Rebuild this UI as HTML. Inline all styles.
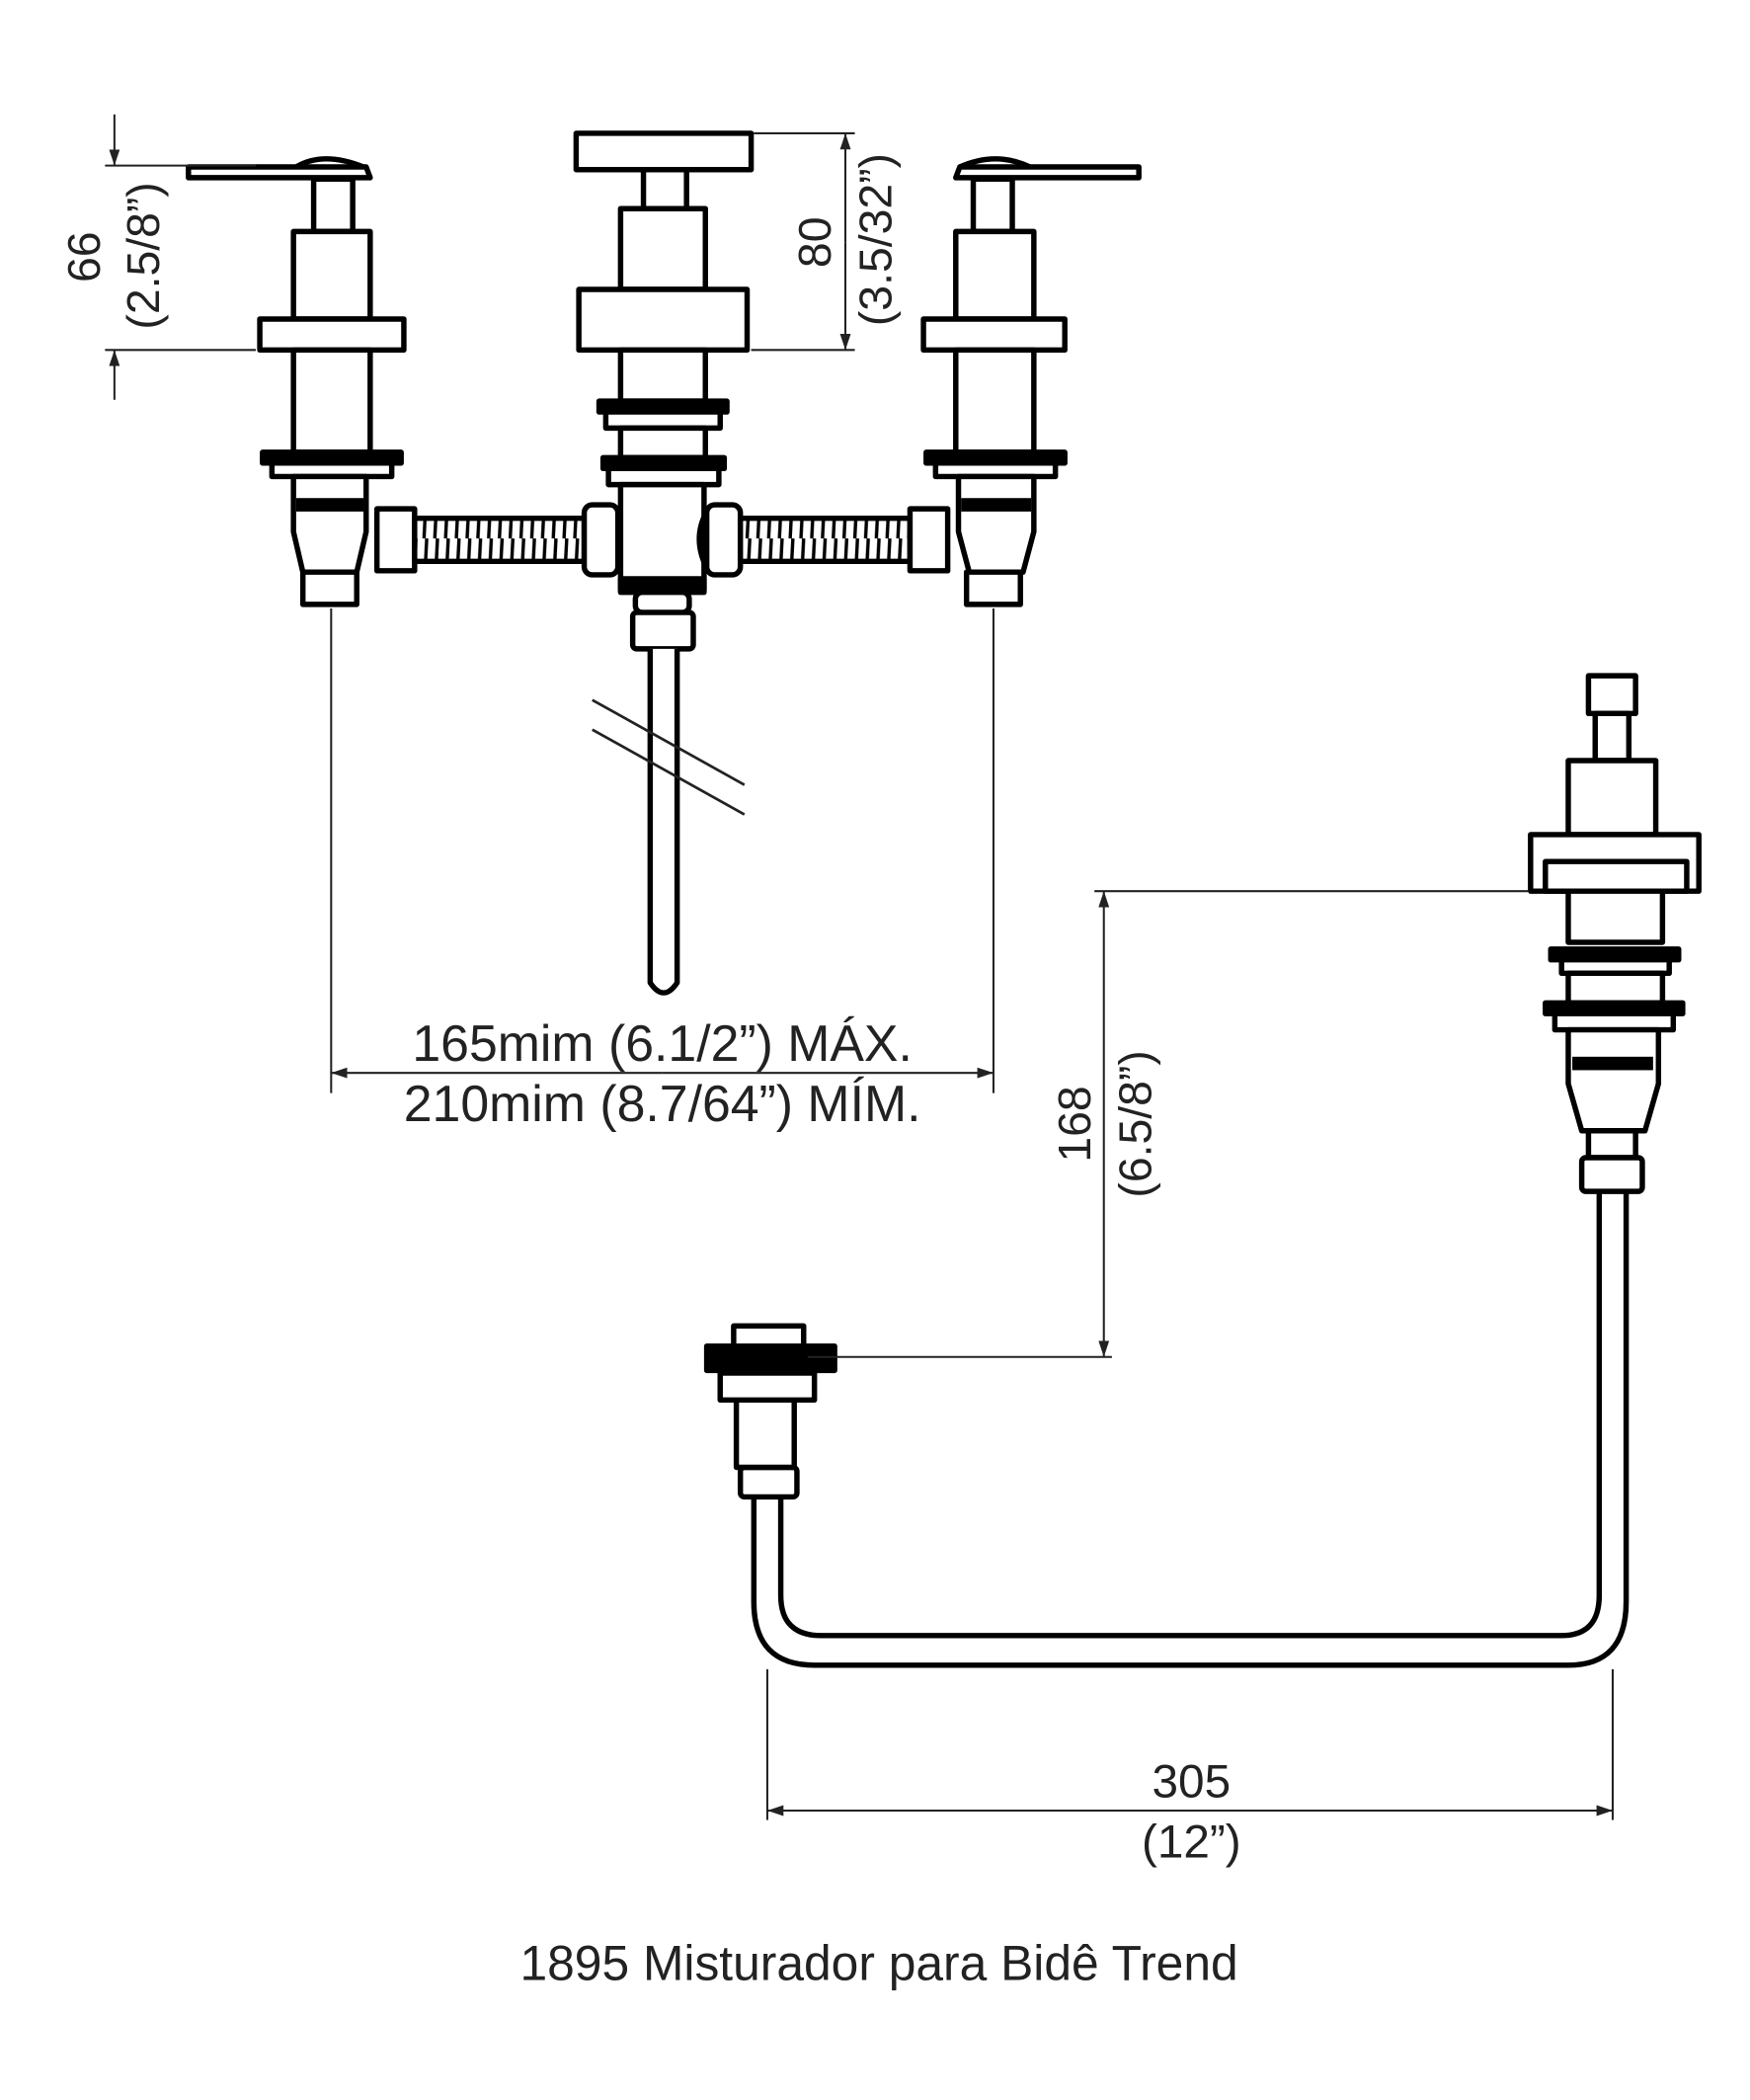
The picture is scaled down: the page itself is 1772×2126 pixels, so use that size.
<!DOCTYPE html>
<html><head><meta charset="utf-8"><style>
html,body{margin:0;padding:0;background:#fff}
svg{display:block}
text{font-family:"Liberation Sans",Arial,sans-serif;fill:#222}
</style></head><body>
<svg width="1772" height="2126" viewBox="0 0 1300 1560" preserveAspectRatio="none" xmlns="http://www.w3.org/2000/svg">
<defs>
<pattern id="coil" width="8" height="40" patternUnits="userSpaceOnUse">
<rect width="8" height="40" fill="#fff"/><line x1="5" y1="0" x2="3" y2="40" stroke="#000" stroke-width="2.5"/>
</pattern>
<marker id="ar" markerWidth="12" markerHeight="8" refX="12" refY="4" orient="auto" markerUnits="userSpaceOnUse"><path d="M0,0 L12,4 L0,8 Z" fill="#222"/></marker>
</defs>
<g fill="#fff" stroke="#000" stroke-width="4" stroke-linejoin="round">
<path d="M140,124 L272,124 L275,132 L140,132 Z"/>
<path d="M220,124 Q240,112 270,124" fill="none"/>
<rect x="233" y="133" width="29" height="39"/>
<rect x="218" y="172" width="57" height="65"/>
<rect x="193" y="237" width="107" height="23"/>
<rect x="218" y="260" width="57" height="76"/>
<rect x="195" y="336" width="103" height="8" fill="#000"/>
<rect x="202" y="344" width="89" height="10"/>
<path d="M218,354 L272,354 L272,395 L265,425 L225,425 L218,395 Z"/>
<rect x="225" y="425" width="40" height="24"/>
<rect x="220" y="370" width="50" height="10" fill="#000" stroke="none"/>
<rect x="280" y="378" width="28" height="46"/>
<rect x="308" y="385" width="126" height="32" fill="url(#coil)"/>
<rect x="434" y="375" width="25" height="52" rx="6"/>
<path d="M459,380 Q470,400 459,422" fill="none"/>
<rect x="428" y="99" width="130" height="27"/>
<rect x="478" y="126" width="32" height="29"/>
<rect x="461" y="155" width="63" height="60"/>
<rect x="430" y="215" width="125" height="45"/>
<rect x="461" y="260" width="63" height="38"/>
<rect x="445" y="298" width="95" height="8" fill="#000"/>
<rect x="450" y="306" width="85" height="12"/>
<rect x="461" y="318" width="63" height="22"/>
<rect x="448" y="340" width="90" height="8" fill="#000"/>
<rect x="452" y="348" width="82" height="12"/>
<rect x="461" y="360" width="62" height="80"/>
<rect x="461" y="430" width="62" height="8" fill="#000"/>
<rect x="472" y="440" width="40" height="15" rx="5"/>
<rect x="470" y="455" width="45" height="27" rx="3"/>
<path d="M483,482 L483,730 Q493,745 503,730 L503,482" />
<path d="M525,380 Q514,400 525,422" fill="none"/>
<rect x="525" y="375" width="25" height="52" rx="6"/>
<rect x="550" y="385" width="126" height="32" fill="url(#coil)"/>
<rect x="676" y="378" width="28" height="46"/>
<path d="M713,124 L846,124 L846,132 L710,132 Z"/>
<path d="M713,124 Q740,112 765,124" fill="none"/>
<rect x="723" y="133" width="29" height="39"/>
<rect x="710" y="172" width="58" height="65"/>
<rect x="686" y="237" width="105" height="23"/>
<rect x="710" y="260" width="58" height="76"/>
<rect x="688" y="336" width="103" height="8" fill="#000"/>
<rect x="695" y="344" width="89" height="10"/>
<path d="M712,354 L768,354 L768,395 L760,425 L720,425 L712,395 Z"/>
<rect x="718" y="425" width="40" height="24"/>
<rect x="714" y="370" width="52" height="10" fill="#000" stroke="none"/>
<rect x="1180" y="502" width="35" height="28"/>
<rect x="1185" y="530" width="25" height="35"/>
<rect x="1165" y="565" width="65" height="55"/>
<rect x="1137" y="620" width="125" height="42"/>
<rect x="1148" y="640" width="105" height="22"/>
<rect x="1165" y="662" width="70" height="38"/>
<rect x="1152" y="705" width="95" height="8" fill="#000"/>
<rect x="1160" y="713" width="80" height="10"/>
<rect x="1165" y="723" width="70" height="22"/>
<rect x="1148" y="745" width="102" height="8" fill="#000"/>
<rect x="1155" y="753" width="88" height="12"/>
<path d="M1165,765 L1232,765 L1232,805 L1222,840 L1175,840 L1165,805 Z"/>
<rect x="1168" y="785" width="60" height="10" fill="#000" stroke="none"/>
<rect x="1180" y="840" width="35" height="20"/>
<rect x="1175" y="860" width="45" height="25" rx="3"/>
<path d="M1188,885 L1188,1185 Q1188,1215 1160,1215 L610,1215 Q580,1215 580,1185 L580,1110" fill="none"/>
<path d="M1208,885 L1208,1190 Q1208,1237 1165,1237 L605,1237 Q560,1237 560,1190 L560,1110" fill="none"/>
<rect x="550" y="1090" width="42" height="22" rx="3"/>
<rect x="547" y="1040" width="43" height="50"/>
<rect x="535" y="1020" width="70" height="20"/>
<rect x="525" y="1000" width="95" height="18" fill="#000"/>
<rect x="545" y="985" width="52" height="15"/>
</g>
<g stroke="#222" stroke-width="2" fill="none">
<line x1="440" y1="520" x2="553" y2="583"/>
<line x1="440" y1="542" x2="553" y2="605"/>
</g>
<g stroke="#222" stroke-width="1.5" fill="none">
<line x1="78" y1="123" x2="190" y2="123"/>
<line x1="78" y1="260" x2="190" y2="260"/>
<line x1="85" y1="85" x2="85" y2="123" marker-end="url(#ar)"/>
<line x1="85" y1="297" x2="85" y2="260" marker-end="url(#ar)"/>
<line x1="560" y1="99" x2="635" y2="99"/>
<line x1="558" y1="260" x2="635" y2="260"/>
<line x1="628" y1="180" x2="628" y2="99" marker-end="url(#ar)"/>
<line x1="628" y1="180" x2="628" y2="260" marker-end="url(#ar)"/>
<line x1="246" y1="452" x2="246" y2="812"/>
<line x1="738" y1="452" x2="738" y2="812"/>
<line x1="492" y1="797" x2="246" y2="797" marker-end="url(#ar)"/>
<line x1="492" y1="797" x2="738" y2="797" marker-end="url(#ar)"/>
<line x1="813" y1="662" x2="1135" y2="662"/>
<line x1="600" y1="1008" x2="826" y2="1008"/>
<line x1="820" y1="835" x2="820" y2="662" marker-end="url(#ar)"/>
<line x1="820" y1="835" x2="820" y2="1008" marker-end="url(#ar)"/>
<line x1="570" y1="1240" x2="570" y2="1352"/>
<line x1="1198" y1="1240" x2="1198" y2="1352"/>
<line x1="884" y1="1345" x2="570" y2="1345" marker-end="url(#ar)"/>
<line x1="884" y1="1345" x2="1198" y2="1345" marker-end="url(#ar)"/>
</g>
<g font-size="34">
<text transform="translate(74,191) rotate(-90)" text-anchor="middle">66</text>
<text transform="translate(118,190) rotate(-90)" text-anchor="middle">(2.5/8”)</text>
<text transform="translate(617,180) rotate(-90)" text-anchor="middle">80</text>
<text transform="translate(662,178) rotate(-90)" text-anchor="middle">(3.5/32”)</text>
<text x="492" y="788" text-anchor="middle" font-size="38">165mim (6.1/2”) MÁX.</text>
<text x="492" y="833" text-anchor="middle" font-size="38">210mim (8.7/64”) MÍM.</text>
<text transform="translate(810,835) rotate(-90)" text-anchor="middle">168</text>
<text transform="translate(855,835) rotate(-90)" text-anchor="middle">(6.5/8”)</text>
<text x="885" y="1335" text-anchor="middle" font-size="35">305</text>
<text x="885" y="1380" text-anchor="middle" font-size="35">(12”)</text>
<text x="653" y="1471" text-anchor="middle" font-size="36.5">1895 Misturador para Bidê Trend</text>
</g>
</svg>
</body></html>
